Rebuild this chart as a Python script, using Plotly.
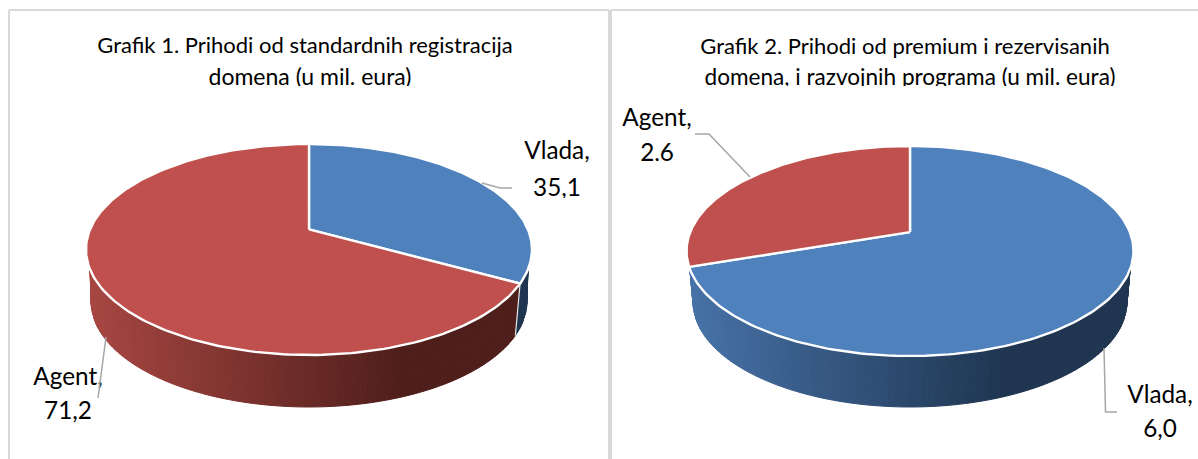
import numpy as np
import plotly.graph_objects as go

categories = ["Vlada", "Agent"]
values_1 = [35.1, 71.2]
values_2 = [6.0, 2.6]
title_1 = ["Grafik 1. Prihodi od standardnih registracija", "domena (u mil. eura)"]
title_2 = ["Grafik 2. Prihodi od premium i rezervisanih", "domena, i razvojnih programa (u mil. eura)"]

TOP = {"Vlada": "#4f81bd", "Agent": "#c0504d"}
WALL = {"Vlada": ((0x47, 0x73, 0xa8), (0x1f, 0x35, 0x50)),
        "Agent": ((0xa8, 0x47, 0x42), (0x4e, 0x1e, 0x1b))}
FONT = "Lato, Carlito, Calibri, sans-serif"
TITLE_SIZE = 22
LABEL_SIZE = 24.3


def rim(clock_deg, g):
    """Perspective projection of a point on the pie's circle."""
    t = np.radians(clock_deg)
    u, v = np.sin(t), np.cos(t)
    a = g["a"]
    d = 1 + a * v
    return u * np.sqrt(1 - a * a) / d, (v + a) / d


def pie(fig, values, g):
    total = sum(values)
    stops = np.concatenate([[0], np.cumsum(values) / total * 360])
    # side wall, drawn as thin strips for the shading
    phi0 = g["phi0"]
    ud, vd = rim(stops[1], g)
    phi_div = np.degrees(np.arctan2(-vd, ud))
    edges = np.linspace(0, 180, 121)
    for p0, p1 in zip(edges[:-1], edges[1:]):
        tops = np.clip([p0, p1], phi0, 180 - phi0)
        cat = categories[0] if tops.mean() < phi_div else categories[1]
        tx = g["cx"] + g["rx"] * np.cos(np.radians(tops))
        ty = g["cy"] + g["ry"] * np.sin(np.radians(tops))
        bx = g["cx"] + g["rxb"] * np.cos(np.radians([p1, p0]))
        by = g["cyb"] + g["ryb"] * np.sin(np.radians([p1, p0]))
        xm = (bx.mean() - (g["cx"] - g["rxb"])) / (2 * g["rxb"])
        f = min(xm / 0.72, 1)
        c0, c1 = WALL[cat]
        col = "rgb(%d,%d,%d)" % tuple(c0[i] + (c1[i] - c0[i]) * f for i in range(3))
        fig.add_trace(go.Scatter(
            x=[tx[0], tx[1], bx[0], bx[1], tx[0]],
            y=[ty[0], ty[1], by[0], by[1], ty[0]],
            mode="lines", fill="toself", fillcolor=col,
            line=dict(color=col, width=1), hoverinfo="skip"))
    # seam between the two slices on the wall, when it faces the viewer
    if phi0 < phi_div < 180 - phi0:
        r = np.radians(phi_div)
        fig.add_trace(go.Scatter(
            x=[g["cx"] + g["rx"] * np.cos(r), g["cx"] + g["rxb"] * np.cos(r)],
            y=[g["cy"] + g["ry"] * np.sin(r), g["cyb"] + g["ryb"] * np.sin(r)],
            mode="lines", line=dict(color="#e8e8e8", width=1.2), hoverinfo="skip"))
    # top face
    for i, cat in enumerate(categories):
        ang = np.linspace(stops[i], stops[i + 1], 200)
        u, v = rim(ang, g)
        c_v = g["a"]
        xs = np.concatenate([[g["cx"]], g["cx"] + g["rx"] * u, [g["cx"]]])
        ys = np.concatenate([[g["cy"] - g["ry"] * c_v], g["cy"] - g["ry"] * v,
                             [g["cy"] - g["ry"] * c_v]])
        fig.add_trace(go.Scatter(
            x=xs, y=ys, mode="lines", fill="toself", fillcolor=TOP[cat],
            line=dict(color="white", width=2.4), hoverinfo="skip", name=cat))


def text(fig, s, x, y, size):
    fig.add_trace(go.Scatter(
        x=[x], y=[y], mode="text", text=[s], textposition="middle center",
        textfont=dict(family=FONT, size=size, color="#000000"),
        hoverinfo="skip", cliponaxis=False))


def label(cat, val):
    return [f"{cat},", f"{val:.1f}".replace(".", ",")]


GEOM_1 = dict(cx=309, cy=249.5, rx=223, ry=105.5, a=0.19, phi0=11,
              rxb=218, cyb=301.5, ryb=105.5)
GEOM_2 = dict(cx=910, cy=251, rx=223.5, ry=105, a=0.18, phi0=10,
              rxb=217, cyb=302, ryb=105)

fig = go.Figure()
pie(fig, values_1, GEOM_1)
pie(fig, values_2, GEOM_2)

# titles
text(fig, title_1[0], 305, 47, TITLE_SIZE)
text(fig, title_1[1], 310, 79, TITLE_SIZE + 1)
text(fig, title_2[0], 905, 48, TITLE_SIZE)
text(fig, title_2[1], 910, 79, TITLE_SIZE + 0.6)

# data labels
a, b = label(categories[0], values_1[0]); text(fig, a, 557, 153, LABEL_SIZE); text(fig, b, 557, 190, LABEL_SIZE)
a, b = label(categories[1], values_1[1]); text(fig, a, 68, 379, LABEL_SIZE); text(fig, b, 68, 413, LABEL_SIZE)
a, b = label(categories[1], values_2[1]); text(fig, a, 657, 120, LABEL_SIZE); text(fig, b, 657, 155, LABEL_SIZE)
a, b = label(categories[0], values_2[0]); text(fig, a, 1160, 397, LABEL_SIZE); text(fig, b, 1160, 431, LABEL_SIZE)

# leader lines
LEADERS = [([482, 500, 512], [183, 188, 188]),
           ([106, 98], [337, 398]),
           ([695, 709, 750], [134, 134, 177]),
           ([1104, 1105.5, 1117], [348, 412, 412])]
for lx, ly in LEADERS:
    fig.add_trace(go.Scatter(x=lx, y=ly, mode="lines",
                             line=dict(color="#a6a6a6", width=1.5), hoverinfo="skip"))

shapes = []
# text clipped at its baseline, as in the source picture
for x0, x1, y0, y1 in [(190, 430, 86, 100), (690, 1130, 86, 100),
                       (530, 585, 198, 208), (40, 95, 423, 432),
                       (640, 675, 161, 168), (1140, 1180, 440, 448)]:
    shapes.append(dict(type="rect", x0=x0, x1=x1, y0=y0, y1=y1, layer="above",
                       fillcolor="white", line_width=0))
# chart frames
FRAME = "#d9d9d9"
for x0, y0, x1, y1 in [(9, 10, 609, 10), (9, 10, 9, 459), (609, 10, 609, 459),
                       (611, 10, 1198, 10), (611, 10, 611, 459)]:
    shapes.append(dict(type="line", x0=x0, y0=y0, x1=x1, y1=y1, layer="above",
                       line=dict(color=FRAME, width=2)))

fig.update_layout(
    width=1198, height=459, margin=dict(l=0, r=0, t=0, b=0),
    paper_bgcolor="white", plot_bgcolor="white", showlegend=False, shapes=shapes,
    xaxis=dict(range=[0, 1198], visible=False, fixedrange=True),
    yaxis=dict(range=[459, 0], visible=False, fixedrange=True),
)
fig.write_html("out.html", config=dict(displayModeBar=False),
               post_script="document.body.style.margin='0';document.body.style.overflow='hidden';")
